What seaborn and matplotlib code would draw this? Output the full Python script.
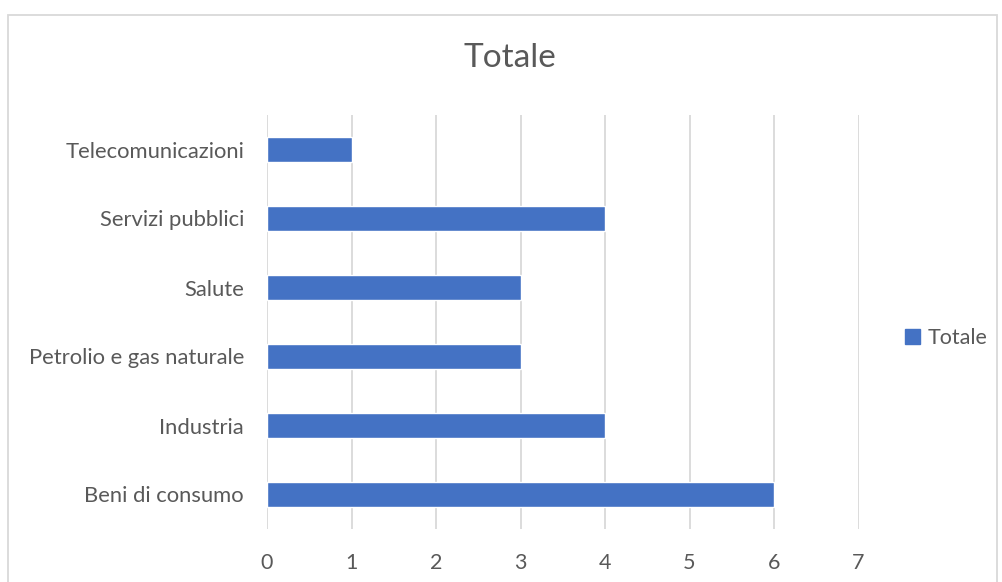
import matplotlib
matplotlib.use("Agg")
import matplotlib.pyplot as plt
import seaborn as sns
import pandas as pd
from matplotlib.patches import Rectangle, Patch

categories = ["Telecomunicazioni", "Servizi pubblici", "Salute",
              "Petrolio e gas naturale", "Industria", "Beni di consumo"]
values = [1, 4, 3, 3, 4, 6]
series_name = "Totale"
xticks = [0, 1, 2, 3, 4, 5, 6, 7]

sns.set_theme(style="white")
plt.rcParams['font.family'] = ['Lato', 'DejaVu Sans']

df = pd.DataFrame({"cat": categories, "val": values})

fig = plt.figure(figsize=(10.02, 5.82), dpi=100)
ax = fig.add_axes([267/1002, 1-529/582, (858.5-267)/1002, (529-115)/582])

bar_color = "#4472C4"
text_color = "#595959"
grid_color = "#D9D9D9"

sns.barplot(data=df, x="val", y="cat", order=categories, color=bar_color,
            width=0.35, ax=ax, orient="h", saturation=1)

ax.set_xlim(0, 7)
ax.set_xticks(xticks)
ax.set_xticklabels([str(t) for t in xticks], fontsize=15.5, color=text_color)
ax.tick_params(axis="y", labelsize=15.8, labelcolor=text_color, length=0, pad=16.5)
ax.tick_params(axis="x", length=0, pad=17)
ax.set_xlabel("")
ax.set_ylabel("")
ax.xaxis.grid(True, color=grid_color, linewidth=1.3)
ax.set_axisbelow(True)
for s in ax.spines.values():
    s.set_visible(False)

fig.text(510/1002, 1-58/582, "Totale", ha="center", va="center",
         fontsize=24, color=text_color)

leg = fig.legend(handles=[Patch(color=bar_color, label=series_name)],
                 loc="center left", bbox_to_anchor=(886/1002, 1-338/582),
                 frameon=False, fontsize=15.5, handlelength=0.7, handleheight=0.7,
                 handletextpad=0.35, labelcolor=text_color)

fig.patches.append(Rectangle((8/1002, -0.05), (997-8)/1002, 1-14.5/582 + 0.05,
                             transform=fig.transFigure, fill=False,
                             edgecolor="#D9D9D9", linewidth=1.3))

fig.savefig("out.png", dpi=100)
